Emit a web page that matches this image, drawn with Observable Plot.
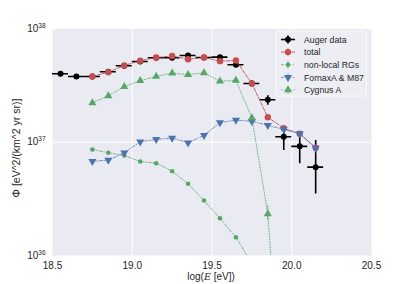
<!DOCTYPE html>
<html><head><meta charset="utf-8">
<script src="https://cdn.jsdelivr.net/npm/d3@7"></script>
<script src="https://cdn.jsdelivr.net/npm/@observablehq/plot@0.6"></script>
<style>
html,body{margin:0;padding:0;background:#fff;}
svg{font-family:"Liberation Sans",Arial,sans-serif;}
</style></head><body><div id="chart"></div>
<script>
// ---- data ----
const augerE = [18.55,18.65,18.75,18.85,18.95,19.05,19.15,19.25,19.35,19.45,19.55,19.65,19.75,19.85,19.95,20.05,20.15];
const augerFlux = [4.02e37,3.81e37,3.81e37,4.19e37,4.73e37,5.16e37,5.57e37,5.57e37,5.83e37,5.6e37,5.64e37,4.83e37,3.3e37,2.37e37,1.12e37,9.2e36,6.03e36];
const augerLo = [3.93e37,3.73e37,3.74e37,4.11e37,4.65e37,5.07e37,5.47e37,5.46e37,5.70e37,5.46e37,5.47e37,4.63e37,3.12e37,2.12e37,8.45e36,6.46e36,3.5e36];
const augerHi = [4.11e37,3.89e37,3.88e37,4.27e37,4.81e37,5.25e37,5.67e37,5.68e37,5.96e37,5.74e37,5.81e37,5.03e37,3.48e37,2.57e37,1.25e37,1.12e37,1.035e37];
const binHalfWidth = 0.05;

const modelE = [18.75,18.85,18.95,19.05,19.15,19.25,19.35,19.45,19.55,19.65,19.75,19.85,19.95,20.05,20.15];
const totalFlux = [3.81e37,4.16e37,4.76e37,5.24e37,5.6e37,5.78e37,5.41e37,5.6e37,5.2e37,5.27e37,3.3e37,1.66e37,1.33e37,1.19e37,8.93e36];
const fornaxFlux = [6.8e36,6.95e36,8.07e36,1.01e37,1.06e37,1.09e37,9.9e36,1.15e37,1.49e37,1.57e37,1.53e37,1.41e37,1.30e37,1.19e37,8.87e36];

const nonlocalE = [18.75,18.85,18.95,19.05,19.15,19.25,19.35,19.45,19.55,19.65,19.75,19.85];
const nonlocalFlux = [8.64e36,8.07e36,7.64e36,6.76e36,6.53e36,5.55e36,4.3e36,3.06e36,2.13e36,1.45e36,8.5e35,4.5e35];

const cygnusE = [18.75,18.85,18.95,19.05,19.15,19.25,19.35,19.45,19.55,19.65,19.75,19.85,19.95];
const cygnusFlux = [2.23e37,2.57e37,3.1e37,3.5e37,3.81e37,4.08e37,3.95e37,4.1e37,3.46e37,3.51e37,1.64e37,2.33e36,2.5e34];
const cygnusLo = [2.23e37,2.57e37,3.1e37,3.5e37,3.81e37,4.08e37,3.95e37,4.1e37,3.46e37,3.51e37,1.56e37,2.04e36,2.5e34];
const cygnusHi = [2.23e37,2.57e37,3.1e37,3.5e37,3.81e37,4.08e37,3.95e37,4.1e37,3.46e37,3.51e37,1.72e37,2.77e36,2.5e34];

const xTicks = [18.5,19.0,19.5,20.0,20.5];
const yTicks = [1e36,1e37,1e38];
const seriesNames = ["Auger data","total","non-local RGs","FornaxA & M87","Cygnus A"];

// ---- tables ----
const auger = augerE.map((E,i)=>({E, flux:augerFlux[i], lo:augerLo[i], hi:augerHi[i]}));
const total = modelE.map((E,i)=>({E, flux:totalFlux[i]}));
const fornax = modelE.map((E,i)=>({E, flux:fornaxFlux[i]}));
const nonlocal = nonlocalE.map((E,i)=>({E, flux:nonlocalFlux[i]}));
const cygnus = cygnusE.map((E,i)=>({E, flux:cygnusFlux[i], lo:cygnusLo[i], hi:cygnusHi[i]}));

const RED="#C44E52", GREEN="#55A868", BLUE="#4C72B0", BG="#EAEAF2";

const chart = Plot.plot({
  width: 413, height: 284,
  marginLeft: 52, marginRight: 42, marginTop: 28.5, marginBottom: 29,
  style: {fontFamily:'"Liberation Sans",Arial,sans-serif', fontSize:"10px", background:"#fff", color:"#262626"},
  x: {domain:[18.5,20.5]},
  y: {type:"log", domain:[1e36,1e38]},
  marks: [
    Plot.frame({fill: BG, stroke: "none"}),
    Plot.gridX([19.0,19.5,20.0], {stroke:"#fff", strokeOpacity:1, strokeWidth:1}),
    Plot.gridY([1e37], {stroke:"#fff", strokeOpacity:1, strokeWidth:1}),
    Plot.axisX({ticks: xTicks, tickSize:0, tickPadding:6, tickFormat: d=>d.toFixed(1), label:null, fontSize:10}),
    Plot.axisY({ticks: yTicks, tickSize:0, tickPadding:7, tickFormat: d=>String(Math.round(Math.log10(d))), label:null, fontSize:10}),
    // Auger data
    Plot.ruleY(auger, {y:"flux", x1:d=>d.E-binHalfWidth, x2:d=>d.E+binHalfWidth, stroke:"#000", strokeWidth:1.6, clip:true}),
    Plot.ruleX(auger, {x:"E", y1:"lo", y2:"hi", stroke:"#000", strokeWidth:1.6, clip:true}),
    Plot.dot(auger, {x:"E", y:"flux", r:3, fill:"#000", clip:true}),
    // total
    Plot.line(total, {x:"E", y:"flux", stroke:RED, strokeWidth:1, strokeDasharray:"3.7,1.6", strokeOpacity:0.9, clip:true}),
    Plot.dot(total, {x:"E", y:"flux", r:3.2, fill:RED, clip:true}),
    // non-local RGs
    Plot.line(nonlocal, {x:"E", y:"flux", stroke:GREEN, strokeWidth:1, strokeDasharray:"3,1.6,1,1.6", strokeOpacity:0.75, clip:true}),
    Plot.dot(nonlocal, {x:"E", y:"flux", r:2.3, fill:GREEN, clip:true}),
    // FornaxA & M87
    Plot.line(fornax, {x:"E", y:"flux", stroke:BLUE, strokeWidth:1, strokeDasharray:"3,1.6,1,1.6", strokeOpacity:0.75, clip:true}),
    Plot.dot(fornax, {x:"E", y:"flux", symbol:"triangle", rotate:180, r:3, fill:BLUE, clip:true}),
    // Cygnus A
    Plot.line(cygnus, {x:"E", y:"flux", stroke:GREEN, strokeWidth:1, strokeDasharray:"1,1.6", strokeOpacity:0.8, clip:true}),
    Plot.ruleX(cygnus, {x:"E", y1:"lo", y2:"hi", stroke:GREEN, strokeWidth:1, strokeOpacity:0.7, clip:true}),
    Plot.dot(cygnus, {x:"E", y:"flux", symbol:"triangle", r:3, fill:GREEN, clip:true})
  ]
});
document.getElementById("chart").appendChild(chart);

const svg = d3.select(chart);
// y tick labels as 10^n with superscript
svg.selectAll('g[aria-label="y-axis tick label"] text').each(function(){
  const t = d3.select(this);
  const exp = t.text();
  t.text(null);
  t.append("tspan").text("10");
  t.append("tspan").attr("font-size","6.5px").attr("dy","-4").text(exp);
});

// axis labels
const xl = svg.append("text").attr("x",211).attr("y",279.5).attr("text-anchor","middle")
  .attr("font-size","10px").attr("fill","#262626");
xl.append("tspan").text("log(");
xl.append("tspan").attr("font-family","'DejaVu Serif',serif").attr("font-style","italic").attr("font-size","9.5px").text("E");
xl.append("tspan").text(" [eV])");

svg.append("text").attr("transform","translate(20,148) rotate(-90)").attr("text-anchor","middle")
  .attr("font-size","10.5px").attr("fill","#262626").text("Φ [eV^2/(km^2 yr sr)]");

// legend
const lg = svg.append("g").attr("transform","translate(276,31)").attr("text-anchor","start");
lg.append("rect").attr("x",0).attr("y",0).attr("width",90.5).attr("height",65).attr("rx",2)
  .attr("fill","#EDEDF4").attr("fill-opacity",0.9).attr("stroke","#f9f9fb").attr("stroke-width",1);
const entries = [
  {name:seriesNames[0], color:"#000", dash:null, sym:"circle", r:3, rot:0, op:1},
  {name:seriesNames[1], color:RED, dash:"3.7,1.6", sym:"circle", r:3.2, rot:0, op:0.9},
  {name:seriesNames[2], color:GREEN, dash:"3,1.6,1,1.6", sym:"circle", r:2.3, rot:0, op:0.75},
  {name:seriesNames[3], color:BLUE, dash:"3,1.6,1,1.6", sym:"triangle", r:3, rot:180, op:0.75},
  {name:seriesNames[4], color:GREEN, dash:"1,1.6", sym:"triangle", r:3, rot:0, op:0.8}
];
entries.forEach((e,i)=>{
  const y = 8.5 + i*12.6;
  const g = lg.append("g").attr("transform",`translate(0,${y})`);
  const ln = g.append("line").attr("x1",5).attr("x2",19).attr("y1",0).attr("y2",0)
    .attr("stroke",e.color).attr("stroke-width", i===0?1.6:1).attr("stroke-opacity",e.op);
  if (e.dash) ln.attr("stroke-dasharray",e.dash);
  g.append("line").attr("x1",12).attr("x2",12).attr("y1",-4).attr("y2",4)
    .attr("stroke",e.color).attr("stroke-width", i===0?1.6:1).attr("stroke-opacity",i===0?1:0.7);
  const sym = e.sym==="circle" ? d3.symbolCircle : d3.symbolTriangle;
  g.append("path").attr("d", d3.symbol(sym, Math.PI*e.r*e.r)())
    .attr("transform",`translate(12,0) rotate(${e.rot})`).attr("fill",e.color);
  g.append("text").attr("x",28).attr("y",3.2).attr("text-anchor","start").attr("font-size","8.7px").attr("fill","#262626").text(e.name);
});
</script></body></html>
